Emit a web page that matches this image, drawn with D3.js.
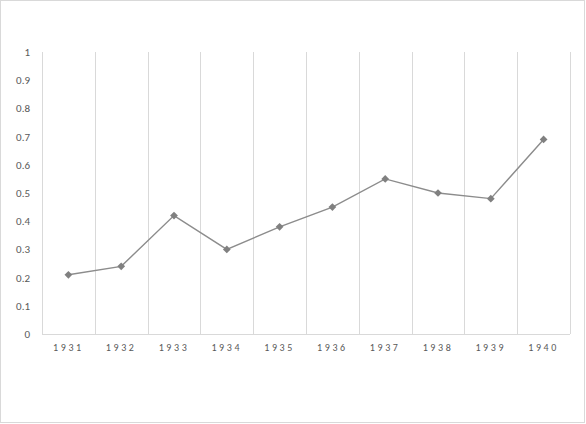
<!DOCTYPE html>
<html><head><meta charset="utf-8">
<script src="https://cdn.jsdelivr.net/npm/d3@7"></script>
<style>html,body{margin:0;padding:0;background:#fff;}svg{display:block;}</style>
</head><body>
<svg id="c" width="586" height="424"></svg>
<script>
const categories = ["1931","1932","1933","1934","1935","1936","1937","1938","1939","1940"];
const values = [0.21, 0.24, 0.42, 0.30, 0.38, 0.45, 0.55, 0.50, 0.48, 0.69];
const yTicks = [0, 0.1, 0.2, 0.3, 0.4, 0.5, 0.6, 0.7, 0.8, 0.9, 1];

const svg = d3.select("#c");
const W = 586, H = 424;
const m = {left: 42, right: 16, top: 52, bottom: 90};

svg.append("rect").attr("x", 0.5).attr("y", 0.5).attr("width", W - 2).attr("height", H - 2)
  .attr("fill", "#fff").attr("stroke", "#d9d9d9");

const x = d3.scaleBand().domain(categories).range([m.left, W - m.right]).padding(0);
const y = d3.scaleLinear().domain([0, 1]).range([H - m.bottom, m.top]);

// vertical gridlines at band boundaries
const bounds = categories.map(c => x(c)).concat([x(categories[categories.length - 1]) + x.bandwidth()]);
svg.append("g").selectAll("line").data(bounds).join("line")
  .attr("x1", d => Math.round(d) + 0.5).attr("x2", d => Math.round(d) + 0.5)
  .attr("y1", y(1)).attr("y2", y(0))
  .attr("stroke", "#d9d9d9").attr("stroke-width", 1);

// x axis baseline
svg.append("line").attr("x1", m.left).attr("x2", W - m.right)
  .attr("y1", Math.round(y(0)) + 0.5).attr("y2", Math.round(y(0)) + 0.5)
  .attr("stroke", "#d9d9d9");

// y axis labels
const yAxis = d3.axisLeft(y).tickValues(yTicks).tickSize(0).tickPadding(12)
  .tickFormat(d => d3.format("~g")(d));
const gy = svg.append("g").attr("transform", `translate(${m.left},0)`).call(yAxis);
gy.select(".domain").remove();
gy.selectAll("text").attr("fill", "#595959").style("font-family", "Calibri, Carlito, 'Liberation Sans', Arial, sans-serif").style("font-size", "11px");

// x axis labels
const xAxis = d3.axisBottom(x).tickSize(0).tickPadding(10);
const gx = svg.append("g").attr("transform", `translate(0,${y(0)})`).call(xAxis);
gx.select(".domain").remove();
gx.selectAll("text").attr("fill", "#595959").style("font-family", "Calibri, Carlito, 'Liberation Sans', Arial, sans-serif")
  .style("font-size", "10px").style("letter-spacing", "2.6px");

// line
const line = d3.line().x((d, i) => x(categories[i]) + x.bandwidth() / 2).y(d => y(d));
svg.append("path").datum(values).attr("d", line).attr("fill", "none")
  .attr("stroke", "#8c8c8c").attr("stroke-width", 1.4);

// markers (square rotated 45° = diamond)
svg.append("g").selectAll("path").data(values).join("path")
  .attr("d", d3.symbol().type(d3.symbolSquare).size(30))
  .attr("transform", (d, i) => `translate(${x(categories[i]) + x.bandwidth() / 2},${y(d)}) rotate(45)`)
  .attr("fill", "#808080");
</script>
</body></html>
